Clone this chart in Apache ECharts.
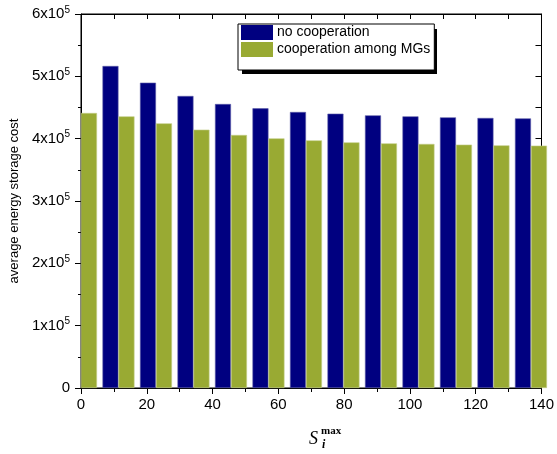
<!DOCTYPE html>
<html>
<head>
<meta charset="utf-8">
<script src="https://cdn.jsdelivr.net/npm/echarts@6/dist/echarts.min.js"></script>
<style>
html,body{margin:0;padding:0;background:#fff;}
#chart{width:557px;height:454px;}
</style>
</head>
<body>
<div id="chart"></div>
<script>
var seriesNames = ['no cooperation', 'cooperation among MGs'];
var xPositions = [0, 11.4, 22.8, 34.2, 45.6, 57, 68.4, 79.8, 91.2, 102.6, 114, 125.4, 136.8];
var noCoop = [null, 516600, 489800, 468500, 455600, 448700, 442800, 440100, 437400, 435800, 434200, 433200, 432500];
var coop = [441200, 435800, 424600, 414400, 405900, 400500, 397300, 394100, 392500, 391500, 390400, 389300, 388800];
var xTicks = [0, 20, 40, 60, 80, 100, 120, 140];
var yTicks = [0, 100000, 200000, 300000, 400000, 500000, 600000];

function pairs(vals) {
  var out = [];
  for (var i = 0; i < xPositions.length; i++) {
    out.push(vals[i] == null ? [xPositions[i], '-'] : [xPositions[i], vals[i]]);
  }
  return out;
}

var chart = echarts.init(document.getElementById('chart'), null, {renderer: 'canvas'});
var font = 'Liberation Sans';
chart.setOption({
  animation: false,
  backgroundColor: '#fff',
  textStyle: {fontFamily: font},
  grid: [{left: 79, right: 12, top: 14, bottom: 66,
    show: true, borderColor: '#000', borderWidth: 1, backgroundColor: 'rgba(0,0,0,0)'}],
  legend: {
    orient: 'vertical',
    left: 238, top: 24, z: 10,
    itemWidth: 32, itemHeight: 15, itemGap: 2,
    icon: 'rect',
    padding: [1, 4, 13, 3],
    backgroundColor: '#fff',
    borderColor: '#000', borderWidth: 1,
    itemStyle: {borderWidth: 0},
    textStyle: {fontFamily: font, fontSize: 14, color: '#000', padding: [2, 0, 0, -1]},
    data: seriesNames
  },
  xAxis: [{
    type: 'value', gridIndex: 0, position: 'bottom', min: 0, max: 140, interval: 20,
    axisLine: {show: true, onZero: false, lineStyle: {color: '#000', width: 1}},
    axisTick: {show: true, inside: false, length: 6, lineStyle: {color: '#000'}},
    minorTick: {show: true, splitNumber: 2, length: 4, lineStyle: {color: '#000'}},
    splitLine: {show: false},
    axisLabel: {fontFamily: font, fontSize: 15, color: '#000', margin: 9,
      formatter: function (v) { return xTicks.indexOf(v) >= 0 ? String(v) : ''; }}
  }, {
    type: 'value', gridIndex: 0, show: true, position: 'top', min: 0, max: 140, interval: 10,
    axisLine: {show: true, onZero: false, lineStyle: {color: '#000', width: 1}},
    axisTick: {show: true, inside: true, length: 5, lineStyle: {color: '#000', width: 1}},
    axisLabel: {show: true, color: '#000', fontSize: 1, formatter: function () { return ''; }},
    splitLine: {show: false}
  }],
  yAxis: [{
    type: 'value', gridIndex: 0, position: 'left', min: 0, max: 600000, interval: 100000,
    name: 'average energy storage cost', nameLocation: 'middle', nameGap: 55,
    nameTextStyle: {fontFamily: font, fontSize: 13, color: '#000'},
    axisLine: {show: true, onZero: false, lineStyle: {color: '#000', width: 1}},
    axisTick: {show: true, inside: false, length: 6, lineStyle: {color: '#000'}},
    minorTick: {show: true, splitNumber: 2, length: 3, lineStyle: {color: '#000'}},
    splitLine: {show: false},
    axisLabel: {
      margin: 11, color: '#000',
      formatter: function (v) {
        if (yTicks.indexOf(v) < 0) return '';
        if (v === 0) return '{a|0}';
        return '{a|' + (v / 100000) + 'x10}{b|5}';
      },
      rich: {
        a: {fontFamily: font, fontSize: 15, color: '#000', lineHeight: 18},
        b: {fontFamily: font, fontSize: 10, color: '#000', verticalAlign: 'top', lineHeight: 18, padding: [0, 0, 8, 0]}
      }
    }
  }, {
    type: 'value', gridIndex: 0, show: true, position: 'right', min: 0, max: 600000, interval: 50000,
    axisLine: {show: true, onZero: false, lineStyle: {color: '#000', width: 1}},
    axisTick: {show: true, inside: true, length: 6, lineStyle: {color: '#000', width: 1}},
    axisLabel: {show: true, color: '#000', fontSize: 1, formatter: function () { return ''; }},
    splitLine: {show: false}
  }],
  series: [{
    name: seriesNames[0], type: 'bar', xAxisIndex: 0, yAxisIndex: 0,
    barWidth: 16, barGap: '0%',
    itemStyle: {color: '#000080', borderColor: '#5c5ca8', borderWidth: 0.6},
    data: pairs(noCoop)
  }, {
    name: seriesNames[1], type: 'bar', xAxisIndex: 0, yAxisIndex: 0,
    barWidth: 16, barGap: '0%',
    itemStyle: {color: '#99AA33', borderColor: '#c3cc88', borderWidth: 0.6},
    data: pairs(coop)
  }, {
    name: 'frame', type: 'line', xAxisIndex: 1, yAxisIndex: 1,
    data: pairs(coop), silent: true, symbol: 'none',
    lineStyle: {opacity: 0, width: 0}, z: 0
  }],
  graphic: [
    {type: 'rect', z: 5, shape: {x: 242, y: 29, width: 195, height: 45}, style: {fill: '#000'}},
    {type: 'text', style: {text: 'S', x: 309, y: 430, font: 'italic 18px "Liberation Serif"', fill: '#000', textVerticalAlign: 'top'}},
    {type: 'text', style: {text: 'max', x: 321, y: 426, font: 'bold 11px "Liberation Serif"', fill: '#000', textVerticalAlign: 'top'}},
    {type: 'text', style: {text: 'i', x: 322, y: 439, font: 'italic bold 12px "Liberation Serif"', fill: '#000', textVerticalAlign: 'top'}}
  ]
});
</script>
</body>
</html>
